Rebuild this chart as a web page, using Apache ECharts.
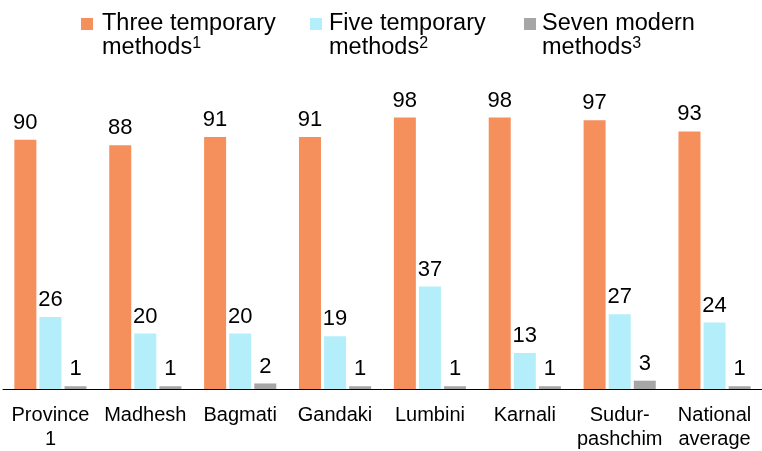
<!DOCTYPE html>
<html>
<head>
<meta charset="utf-8">
<script src="https://cdn.jsdelivr.net/npm/echarts@6/dist/echarts.min.js"></script>
<style>
html,body{margin:0;padding:0;background:#fff;}
#chart{width:762px;height:451px;}
</style>
</head>
<body>
<div id="chart"></div>
<script>
var categories = ['Province\n1', 'Madhesh', 'Bagmati', 'Gandaki', 'Lumbini', 'Karnali', 'Sudur-\npashchim', 'National\naverage'];
var threeTemporary = [90, 88, 91, 91, 98, 98, 97, 93];
var fiveTemporary = [26, 20, 20, 19, 37, 13, 27, 24];
var sevenModern = [1, 1, 2, 1, 1, 1, 3, 1];
var seriesNames = ['Three temporary methods', 'Five temporary methods', 'Seven modern methods'];
var legendLines = [['Three temporary', 'methods', '1'], ['Five temporary', 'methods', '2'], ['Seven modern', 'methods', '3']];
var colors = ['#F58F5B', '#B4EEFB', '#A6A6A6'];

var FONT = "'Liberation Sans', Arial, sans-serif";
var chart = echarts.init(document.getElementById('chart'), null, {renderer: 'canvas'});

function legendFor(i, left, padLeft) {
  return {
    data: [seriesNames[i]],
    left: left,
    top: 12,
    padding: 0,
    icon: 'rect',
    itemWidth: 12,
    itemHeight: 12,
    itemGap: 0,
    selectedMode: false,
    formatter: function () {
      var l = legendLines[i];
      return '{a|' + l[0] + '}\n{a|' + l[1] + '}{s|' + l[2] + '}';
    },
    textStyle: {
      fontFamily: FONT,
      color: '#000',
      padding: [24, 0, 0, padLeft],
      rich: {
        a: {fontSize: 23.5, lineHeight: 24, fontFamily: FONT, color: '#000'},
        s: {fontSize: 16, lineHeight: 12, verticalAlign: 'top', fontFamily: FONT, color: '#000'}
      }
    }
  };
}

var labelStyle = {
  show: true,
  position: 'top',
  distance: 6,
  fontFamily: FONT,
  fontSize: 22,
  color: '#000'
};

function makeSeries(i, data) {
  return {
    name: seriesNames[i],
    type: 'bar',
    data: data,
    barWidth: 22,
    barGap: '14%',
    itemStyle: {color: colors[i]},
    label: labelStyle,
    animation: false
  };
}

chart.setOption({
  animation: false,
  color: colors,
  legend: [legendFor(0, 81, 4), legendFor(1, 310, 2), legendFor(2, 524, 1)],
  grid: {left: 3, top: 112, width: 763, bottom: 60, containLabel: false},
  xAxis: {
    type: 'category',
    data: categories,
    axisLine: {show: true, lineStyle: {color: '#000', width: 1}},
    axisTick: {show: false},
    axisLabel: {
      interval: 0,
      margin: 14,
      fontFamily: FONT,
      fontSize: 20,
      lineHeight: 24,
      color: '#000'
    }
  },
  yAxis: {
    type: 'value',
    min: 0,
    max: 100,
    show: false,
    splitLine: {show: false}
  },
  series: [
    makeSeries(0, threeTemporary),
    makeSeries(1, fiveTemporary),
    makeSeries(2, sevenModern)
  ]
});
</script>
</body>
</html>
